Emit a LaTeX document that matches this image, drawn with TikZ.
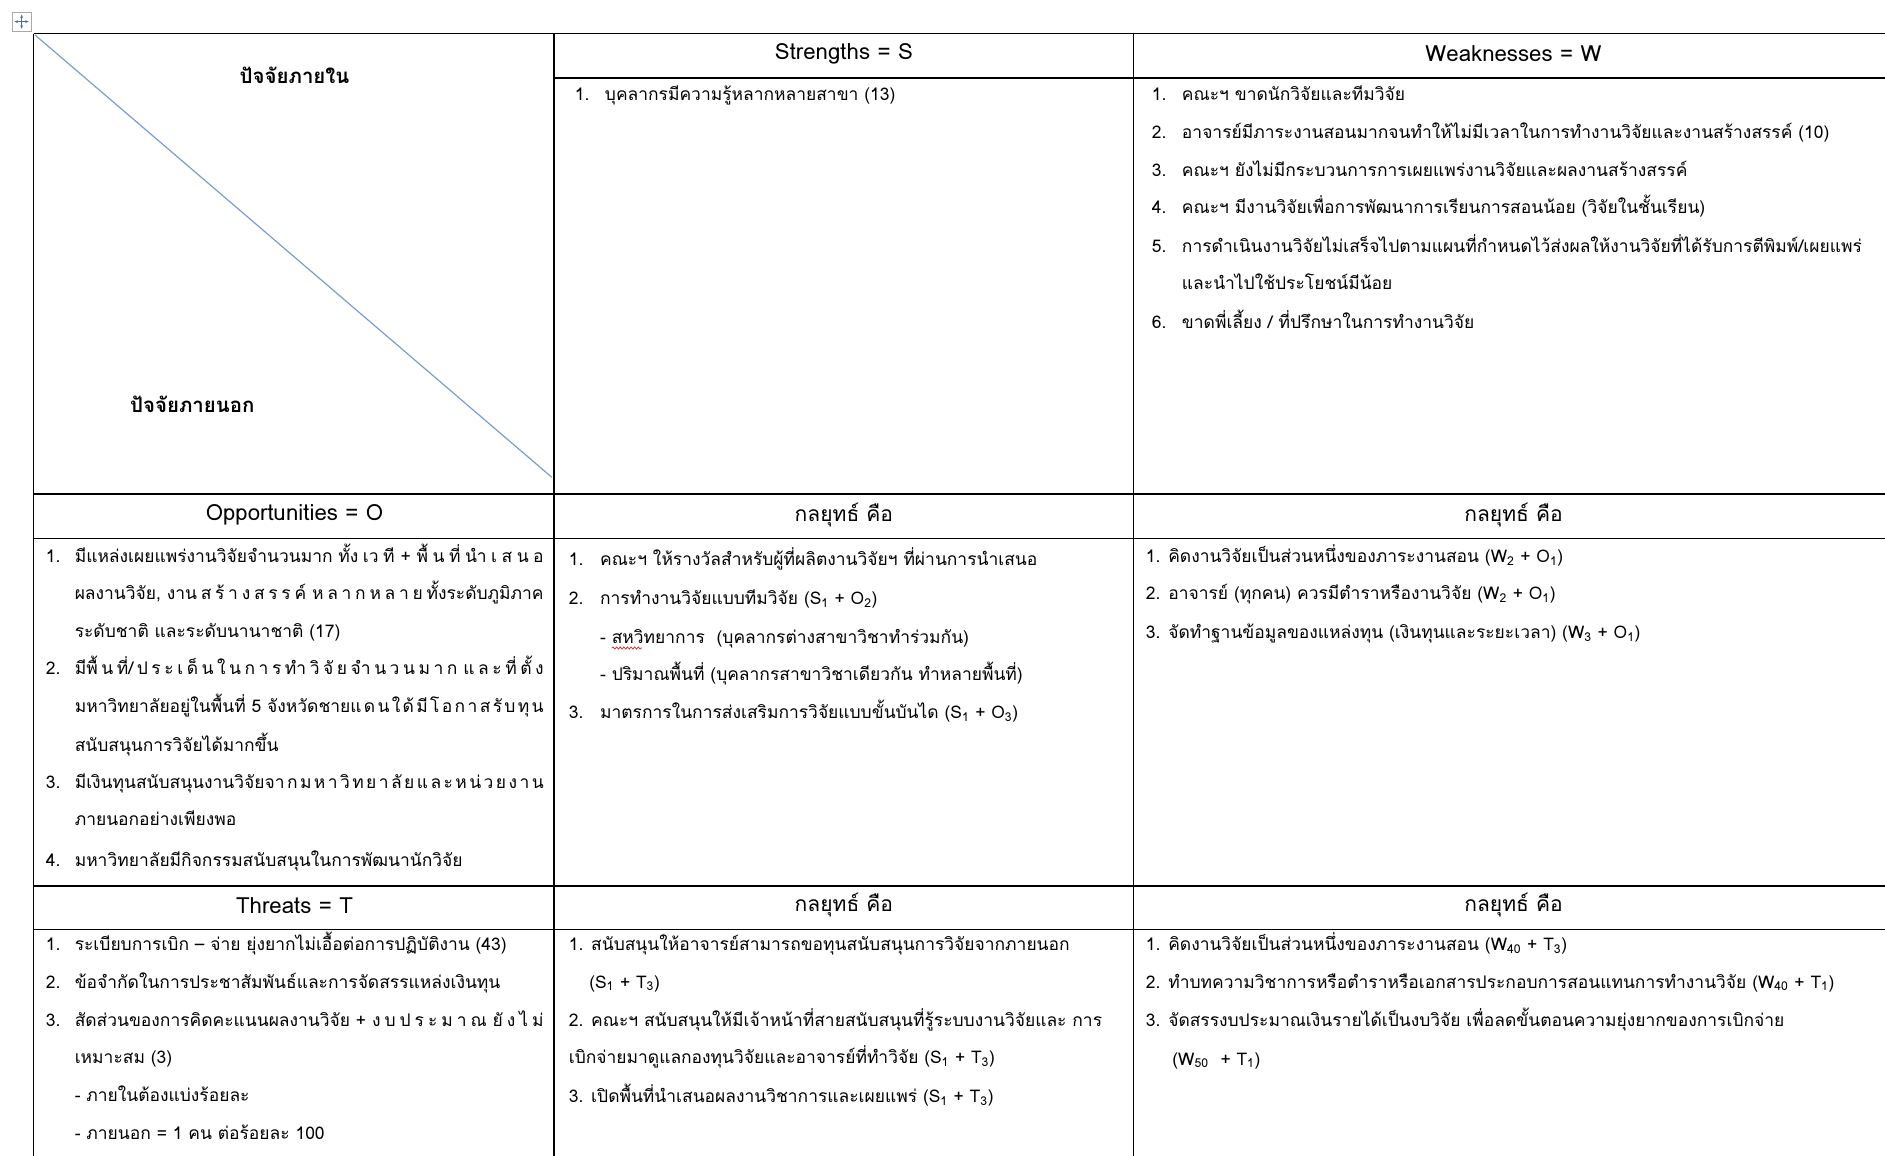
\documentclass[tikz,border=0pt]{standalone}
\usepackage{fontspec}
\setmainfont[Script=Thai]{Loma}
\usetikzlibrary{arrows.meta}
\usetikzlibrary{decorations.pathmorphing}

\newcommand{\itemno}[2][24pt]{\makebox[#1][l]{#2}}
\newcommand{\idx}[1]{\textsubscript{#1}}
\newcommand{\tgap}{\hskip 0pt plus 1fil\relax}
\newcommand{\jline}[1]{\makebox[390pt][s]{#1}}

\begin{document}
\begin{tikzpicture}[x=1pt,y=-1pt,
    grid/.style={draw=black,line width=1.3pt},
    head/.style={inner sep=0pt,font=\fontsize{18.5}{20}\selectfont},
    thaihead/.style={inner sep=0pt,font=\fontsize{17.5}{19}\selectfont},
    cornerlabel/.style={inner sep=0pt,font=\fontsize{17}{19}\selectfont\bfseries},
    item/.style={anchor=base west,inner sep=0pt,font=\fontsize{14.5}{16}\selectfont}
  ]

\definecolor{diagblue}{RGB}{125,155,205}
\definecolor{handleblue}{RGB}{60,110,200}
\definecolor{handlegray}{RGB}{170,170,170}
\definecolor{spellred}{RGB}{220,40,40}

\useasboundingbox (0,0) rectangle (1568,961);

% table move handle
\draw[handlegray,fill=white,line width=0.6pt] (10,10) rectangle (26,26);
\draw[handleblue,line width=0.9pt,{Stealth[length=3pt]}-{Stealth[length=3pt]}] (12,18) -- (24,18);
\draw[handleblue,line width=0.9pt,{Stealth[length=3pt]}-{Stealth[length=3pt]}] (18,12) -- (18,24);

% grid
\draw[grid] (28,28) -- (1572,28);
\draw[grid] (28,28) -- (28,965);
\draw[grid] (461,28) -- (461,965);
\draw[grid] (943,28) -- (943,965);
\draw[grid] (461,65) -- (1572,65);
\draw[grid] (28,411) -- (1572,411);
\draw[grid] (28,448) -- (1572,448);
\draw[grid] (28,737) -- (1572,737);
\draw[grid] (28,773) -- (1572,773);
\draw[diagblue,line width=1pt] (29,29) -- (459,397);

% headings
\node[cornerlabel] (inner) at (245,63) {ปัจจัยภายใน};
\node[cornerlabel] (outer) at (160,336) {ปัจจัยภายนอก};
\node[head] (hs) at (702,45) {Strengths = S};
\node[head] (hw) at (1259,45) {Weaknesses = W};
\node[head] (ho) at (245,428) {Opportunities = O};
\node[thaihead] (hso) at (702,428) {กลยุทธ์ คือ};
\node[thaihead] (hwo) at (1259,428) {กลยุทธ์ คือ};
\node[head] (ht) at (245,753) {Threats = T};
\node[thaihead] (hst) at (702,753) {กลยุทธ์ คือ};
\node[thaihead] (hwt) at (1259,753) {กลยุทธ์ คือ};

% strengths
\node[item] (s1) at (478,84) {\itemno[25pt]{1.}บุคลากรมีความรู้หลากหลายสาขา (13)};

% weaknesses
\node[item] (w1) at (958,84) {\itemno[25pt]{1.}คณะฯ ขาดนักวิจัยและทีมวิจัย};
\node[item] (w2) at (958,115) {\itemno[25pt]{2.}อาจารย์มีภาระงานสอนมากจนทำให้ไม่มีเวลาในการทำงานวิจัยและงานสร้างสรรค์ (10)};
\node[item] (w3) at (958,147) {\itemno[25pt]{3.}คณะฯ ยังไม่มีกระบวนการการเผยแพร่งานวิจัยและผลงานสร้างสรรค์};
\node[item] (w4) at (958,178) {\itemno[25pt]{4.}คณะฯ มีงานวิจัยเพื่อการพัฒนาการเรียนการสอนน้อย (วิจัยในชั้นเรียน)};
\node[item] (w5) at (958,210) {\itemno[25pt]{5.}การดำเนินงานวิจัยไม่เสร็จไปตามแผนที่กำหนดไว้ส่งผลให้งานวิจัยที่ได้รับการตีพิมพ์/เผยแพร่};
\node[item] (w5b) at (983,241) {และนำไปใช้ประโยชน์มีน้อย};
\node[item] (w6) at (958,273) {\itemno[25pt]{6.}ขาดพี่เลี้ยง / ที่ปรึกษาในการทำงานวิจัย};

% opportunities
\node[item] (o1) at (38,468) {\itemno{1.}\jline{มีแหล่งเผยแพร่งานวิจัยจำนวนมาก ทั้ง\tgap เว\tgap ที + พื้\tgap น\tgap ที่\tgap นำ\tgap เ\tgap ส\tgap น\tgap อ}};
\node[item] (o1b) at (62,499) {\jline{ผลงานวิจัย, งาน\tgap ส\tgap ร้\tgap า\tgap ง\tgap ส\tgap ร\tgap ร\tgap ค์ ห\tgap ล\tgap า\tgap ก\tgap ห\tgap ล\tgap า\tgap ย\tgap ทั้งระดับภูมิภาค}};
\node[item] (o1c) at (62,530) {ระดับชาติ และระดับนานาชาติ (17)};
\node[item] (o2) at (38,561) {\itemno{2.}\jline{มีพื้\tgap น\tgap ที่/\tgap ป\tgap ร\tgap ะ\tgap เ\tgap ด็\tgap น\tgap ใ\tgap น\tgap ก\tgap า\tgap ร\tgap ทำ\tgap วิ\tgap จั\tgap ย\tgap จำ\tgap น\tgap ว\tgap น\tgap ม\tgap า\tgap ก แ\tgap ล\tgap ะ\tgap ที่\tgap ตั้\tgap ง}};
\node[item] (o2b) at (62,593) {\jline{มหาวิทยาลัยอยู่ในพื้นที่ 5 จังหวัดชายแ\tgap ด\tgap น\tgap ใ\tgap ด้\tgap มี\tgap โ\tgap อ\tgap ก\tgap า\tgap ส\tgap รั\tgap บ\tgap ทุ\tgap น}};
\node[item] (o2c) at (62,625) {สนับสนุนการวิจัยได้มากขึ้น};
\node[item] (o3) at (38,656) {\itemno{3.}\jline{มีเงินทุนสนับสนุนงานวิจัยจา\tgap ก\tgap ม\tgap ห\tgap า\tgap วิ\tgap ท\tgap ย\tgap า\tgap ลั\tgap ย\tgap แ\tgap ล\tgap ะ\tgap ห\tgap น่\tgap ว\tgap ย\tgap ง\tgap า\tgap น}};
\node[item] (o3b) at (62,687) {ภายนอกอย่างเพียงพอ};
\node[item] (o4) at (38,721) {\itemno{4.}มหาวิทยาลัยมีกิจกรรมสนับสนุนในการพัฒนานักวิจัย};

% SO strategies
\node[item] (so1) at (473,470) {\itemno[26pt]{1.}คณะฯ ให้รางวัลสำหรับผู้ที่ผลิตงานวิจัยฯ ที่ผ่านการนำเสนอ};
\node[item] (so2) at (473,503) {\itemno[26pt]{2.}การทำงานวิจัยแบบทีมวิจัย (S\idx{1} + O\idx{2})};
\node[item] (so2a) at (499,535) {- สหวิทยาการ~ (บุคลากรต่างสาขาวิชาทำร่วมกัน)};
\node[item] (so2b) at (499,566) {- ปริมาณพื้นที่ (บุคลากรสาขาวิชาเดียวกัน ทำหลายพื้นที่)};
\node[item] (so3) at (473,598) {\itemno[26pt]{3.}มาตรการในการส่งเสริมการวิจัยแบบขั้นบันได (S\idx{1} + O\idx{3})};
\draw[spellred,line width=0.6pt,decorate,decoration={snake,amplitude=0.9pt,segment length=3pt}] (509,539) -- (534,539);

% WO strategies
\node[item] (wo1) at (953,468) {1. คิดงานวิจัยเป็นส่วนหนึ่งของภาระงานสอน (W\idx{2} + O\idx{1})};
\node[item] (wo2) at (953,499) {2. อาจารย์ (ทุกคน) ควรมีตำราหรืองานวิจัย (W\idx{2} + O\idx{1})};
\node[item] (wo3) at (953,531) {3. จัดทำฐานข้อมูลของแหล่งทุน (เงินทุนและระยะเวลา) (W\idx{3} + O\idx{1})};

% threats
\node[item] (t1) at (38,791) {\itemno{1.}ระเบียบการเบิก – จ่าย ยุ่งยากไม่เอื้อต่อการปฏิบัติงาน (43)};
\node[item] (t2) at (38,822) {\itemno{2.}ข้อจำกัดในการประชาสัมพันธ์และการจัดสรรแหล่งเงินทุน};
\node[item] (t3) at (38,854) {\itemno{3.}\jline{สัดส่วนของการคิดคะแนนผลงานวิจัย + ง\tgap บ\tgap ป\tgap ร\tgap ะ\tgap ม\tgap า\tgap ณ ยั\tgap ง\tgap ไ\tgap ม่}};
\node[item] (t3b) at (62,885) {เหมาะสม (3)};
\node[item] (t3c) at (62,916) {- ภายในต้องแบ่งร้อยละ};
\node[item] (t3d) at (62,948) {- ภายนอก = 1 คน ต่อร้อยละ 100};

% ST strategies
\node[item] (st1) at (473,791) {1. สนับสนุนให้อาจารย์สามารถขอทุนสนับสนุนการวิจัยจากภายนอก};
\node[item] (st1b) at (490,822) {(S\idx{1} + T\idx{3})};
\node[item] (st2) at (473,854) {2. คณะฯ สนับสนุนให้มีเจ้าหน้าที่สายสนับสนุนที่รู้ระบบงานวิจัยและ การ};
\node[item] (st2b) at (473,885) {เบิกจ่ายมาดูแลกองทุนวิจัยและอาจารย์ที่ทำวิจัย (S\idx{1} + T\idx{3})};
\node[item] (st3) at (473,917) {3. เปิดพื้นที่นำเสนอผลงานวิชาการและเผยแพร่ (S\idx{1} + T\idx{3})};

% WT strategies
\node[item] (wt1) at (953,791) {1. คิดงานวิจัยเป็นส่วนหนึ่งของภาระงานสอน (W\idx{40} + T\idx{3})};
\node[item] (wt2) at (953,822) {2. ทำบทความวิชาการหรือตำราหรือเอกสารประกอบการสอนแทนการทำงานวิจัย (W\idx{40} + T\idx{1})};
\node[item] (wt3) at (953,854) {3. จัดสรรงบประมาณเงินรายได้เป็นงบวิจัย เพื่อลดขั้นตอนความยุ่งยากของการเบิกจ่าย};
\node[item] (wt3b) at (975,886) {(W\idx{50}~ + T\idx{1})};

\end{tikzpicture}
\end{document}
